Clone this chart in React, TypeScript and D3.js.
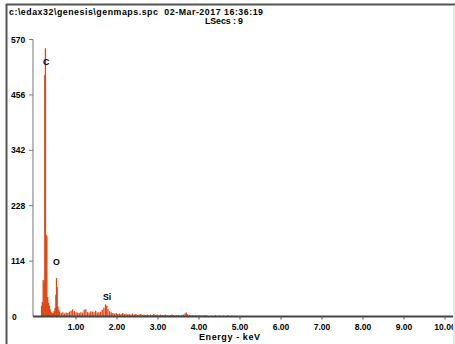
import React from "react";
import * as d3 from "d3";

const W = 455;
const H = 344;

const headerLine1 = "c:\\edax32\\genesis\\genmaps.spc  02-Mar-2017 16:36:19";
const headerLine2 = "LSecs : 9";
const xTickValues = [1, 2, 3, 4, 5, 6, 7, 8, 9, 10];
const xTickLabels = ["1.00", "2.00", "3.00", "4.00", "5.00", "6.00", "7.00", "8.00", "9.00", "10.00"];
const yTickValues = [0, 114, 228, 342, 456, 570];
const yTickLabels = ["0", "114", "228", "342", "456", "570"];
const xTitle = "Energy - keV";

// spectrum channels (keV) and counts
const energies = [
  0.16, 0.18, 0.2, 0.22, 0.24, 0.255, 0.27, 0.29, 0.31, 0.33, 0.35, 0.37, 0.39, 0.41, 0.43, 0.45,
  0.47, 0.49, 0.51, 0.525, 0.54, 0.56, 0.58, 0.6,
  0.64, 0.68, 0.72, 0.76, 0.8, 0.84, 0.88, 0.92, 0.96, 1.0, 1.04, 1.08, 1.12, 1.16, 1.2, 1.24,
  1.28, 1.32, 1.36, 1.4, 1.44, 1.48, 1.52, 1.56, 1.6, 1.64, 1.68, 1.72, 1.75, 1.78, 1.82, 1.86,
  1.9, 1.94, 1.98, 2.02, 2.06, 2.1, 2.14, 2.18, 2.22, 2.26, 2.3, 2.34, 2.38, 2.42, 2.46, 2.5,
  2.54, 2.58, 2.62, 2.66, 2.7, 2.74, 2.78, 2.82, 2.86, 2.9, 2.94, 2.98, 3.02, 3.06, 3.1, 3.14,
  3.18, 3.22, 3.26, 3.3, 3.34, 3.38, 3.42, 3.46, 3.5, 3.54, 3.58, 3.62, 3.66, 3.69, 3.72, 3.76,
  3.8, 3.84, 3.88, 3.92, 3.96, 4.0, 4.05, 4.1, 4.15, 4.2, 4.3, 4.4, 4.5, 4.6, 4.7, 4.8,
];
const counts = [
  22, 30, 75, 70, 497, 552, 168, 165, 40, 28, 22, 15, 10, 8, 7, 8,
  12, 18, 45, 79, 60, 20, 14, 10,
  7, 9, 6, 8, 7, 10, 12, 15, 11, 9, 8, 7, 9, 8, 14, 15,
  9, 8, 11, 10, 9, 12, 8, 9, 10, 14, 18, 25, 22, 15, 11, 9,
  7, 6, 7, 5, 6, 5, 7, 5, 6, 4, 5, 4, 6, 4, 5, 3,
  4, 5, 3, 4, 3, 4, 3, 4, 3, 5, 3, 4, 3, 4, 3, 3,
  4, 3, 2, 3, 4, 3, 2, 3, 3, 2, 3, 4, 6, 8, 5, 3,
  2, 3, 2, 3, 2, 3, 2, 2, 3, 2, 2, 3, 2, 2, 3, 2,
];

const peakLabels = ["C", "O", "Si"];
const peakEnergies = [0.27, 0.525, 1.76];
const peakLabelCounts = [518, 105, 33];

const FONT = "'Liberation Sans', Arial, sans-serif";
const SPEC = "#de4512";

export default function App() {
  const x = d3.scaleLinear().domain([0, 10]).range([35, 445]);
  const y = d3.scaleLinear().domain([0, 570]).range([316.5, 39.5]);
  const axisX0 = 33;

  return (
    <svg
      width={W}
      height={H}
      style={{ position: "absolute", left: 0, top: 0, background: "#fff" }}
      fontFamily={FONT}
      fontWeight="bold"
    >
      <defs>
        <clipPath id="frameClip">
          <rect x={7} y={5} width={446} height={H} />
        </clipPath>
      </defs>
      {/* frame */}
      <line x1={6.5} y1={4} x2={6.5} y2={H} stroke="#555" strokeWidth={2} />
      <line x1={6} y1={4.5} x2={455} y2={4.5} stroke="#555" strokeWidth={2} />
      <line x1={454} y1={5} x2={454} y2={H} stroke="#ccc" strokeWidth={1} />

      <g clipPath="url(#frameClip)">
        {/* header */}
        <text
          x={9}
          y={15}
          fontSize={8.8}
          fill="#000"
          style={{ whiteSpace: "pre" }}
          textLength={254}
          lengthAdjust="spacing"
        >
          {headerLine1}
        </text>
        <text x={205} y={24} fontSize={8.8} fill="#000" textLength={38} lengthAdjust="spacing">
          {headerLine2}
        </text>

        {/* spectrum */}
        {energies.map((e, i) => (
          <line
            key={i}
            x1={x(e)}
            x2={x(e)}
            y1={y(0)}
            y2={y(counts[i])}
            stroke={SPEC}
            strokeWidth={1.3}
          />
        ))}

        {/* peak labels */}
        {peakLabels.map((l, i) => (
          <text
            key={l}
            x={x(peakEnergies[i])}
            y={y(peakLabelCounts[i])}
            fontSize={8.8}
            textAnchor="middle"
            fill="#000"
          >
            {l}
          </text>
        ))}

        {/* y axis */}
        <line x1={axisX0} x2={axisX0} y1={y(570)} y2={y(0)} stroke="#777" strokeWidth={1} />
        {yTickValues.map((v, i) => (
          <g key={v}>
            {v !== 0 && (
              <line x1={29} x2={axisX0} y1={y(v)} y2={y(v)} stroke="#777" strokeWidth={1} />
            )}
            <text x={v === 0 ? 12 : 11} y={y(v) + 3} fontSize={8.5} fill="#000">
              {yTickLabels[i]}
            </text>
          </g>
        ))}

        {/* x axis */}
        <line x1={axisX0} x2={455} y1={316.5} y2={316.5} stroke="#444" strokeWidth={2} />
        {xTickValues.map((v, i) => (
          <g key={v}>
            <line x1={x(v)} x2={x(v)} y1={316} y2={319.5} stroke="#555" strokeWidth={1} />
            <text x={x(v)} y={330} fontSize={8.5} textAnchor="middle" fill="#000">
              {xTickLabels[i]}
            </text>
          </g>
        ))}
        <text
          x={199}
          y={340}
          fontSize={9}
          fill="#000"
          textLength={61}
          lengthAdjust="spacing"
        >
          {xTitle}
        </text>
      </g>
    </svg>
  );
}
